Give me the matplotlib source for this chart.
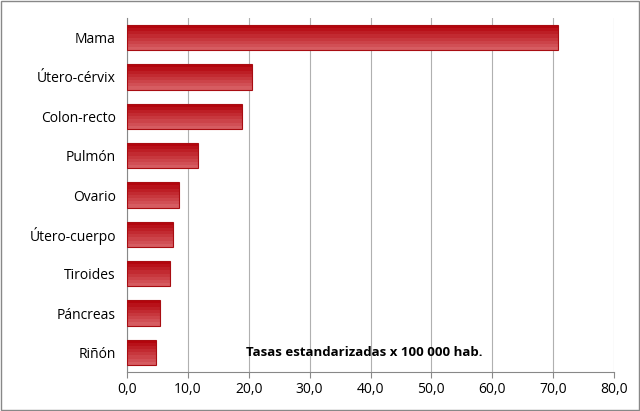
import matplotlib
matplotlib.use('Agg')
import matplotlib.pyplot as plt
from matplotlib.patches import Rectangle
import numpy as np

plt.rcParams['font.family'] = ['Open Sans', 'DejaVu Sans']

# data
sites = ['Mama', 'Útero-cérvix', 'Colon-recto', 'Pulmón', 'Ovario',
         'Útero-cuerpo', 'Tiroides', 'Páncreas', 'Riñón']
rates = [70.8, 20.5, 18.9, 11.7, 8.5, 7.6, 7.1, 5.4, 4.8]
ticks = [0, 10, 20, 30, 40, 50, 60, 70, 80]

fig = plt.figure(figsize=(6.4, 4.11), dpi=100)
ax = fig.add_axes([127 / 640, 1 - 372 / 411, (614 - 127) / 640, (372 - 18) / 411])

ypos = np.arange(len(sites))
h = 0.64
# vertical gradient: dark red at top, lighter below
n = 8
top = np.array([0.70, 0.02, 0.05])
bot = np.array([0.84, 0.36, 0.38])
for i in range(n):
    c = top + (bot - top) * i / (n - 1)
    ax.barh(ypos - h / 2 + (i + 0.5) * h / n, rates, height=h / n + 0.005,
            color=c, linewidth=0, zorder=3)
ax.barh(ypos, rates, height=h, fill=False, edgecolor='#a80d12',
        linewidth=0.8, zorder=4)

ax.set_ylim(len(sites) - 0.5, -0.5)
ax.set_yticks(ypos)
ax.set_yticklabels(sites, fontsize=10)
ax.set_xlim(0, 80)
ax.set_xticks(ticks)
ax.set_xticklabels([f'{t:.1f}'.replace('.', ',') for t in ticks], fontsize=10)
ax.tick_params(axis='y', length=0, pad=8)
ax.tick_params(axis='x', length=4, color='#888888', direction='out')
ax.grid(axis='x', color='#b0b0b0', linewidth=0.8, zorder=0)
for s in ['top', 'right']:
    ax.spines[s].set_visible(False)
for s in ['left', 'bottom']:
    ax.spines[s].set_color('#888888')

ax.text(19.5, 8.0, 'Tasas estandarizadas x 100 000 hab.', fontsize=9.5,
        fontweight='bold', va='center', zorder=5)

fig.patches.append(Rectangle((0.002, 0.002), 0.996, 0.996, transform=fig.transFigure,
                             fill=False, edgecolor='#888888', linewidth=1))
fig.savefig('out.png', dpi=100)
